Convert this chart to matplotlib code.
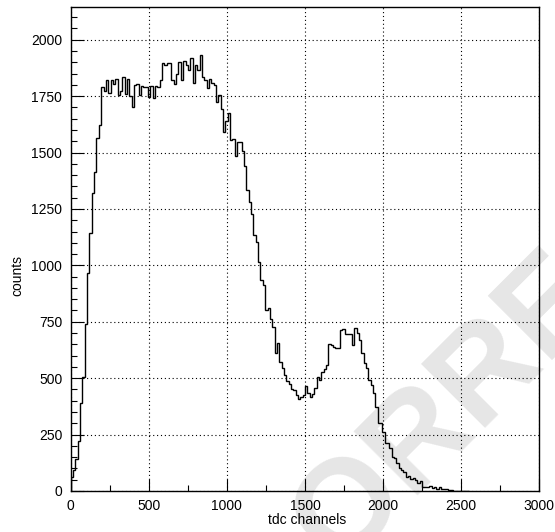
import numpy as np
import matplotlib
matplotlib.use("Agg")
import matplotlib.pyplot as plt
from matplotlib.ticker import MultipleLocator

plt.rcParams['font.family'] = ['Liberation Sans', 'DejaVu Sans']

# tdc spectrum, 15 channels per bin starting at 0
bin_width = 15
counts = [
    60, 95, 140, 220, 390, 505, 740, 965, 1145, 1320,
    1415, 1565, 1620, 1790, 1775, 1820, 1762, 1820, 1806, 1825,
    1755, 1775, 1833, 1760, 1828, 1750, 1700, 1799, 1804, 1757,
    1794, 1791, 1789, 1744, 1794, 1740, 1794, 1789, 1823, 1899,
    1887, 1899, 1897, 1821, 1806, 1848, 1902, 1821, 1906, 1887,
    1866, 1917, 1809, 1887, 1866, 1931, 1833, 1823, 1784, 1825,
    1809, 1799, 1725, 1755, 1695, 1592, 1641, 1674, 1555, 1562,
    1484, 1548, 1548, 1506, 1440, 1334, 1280, 1227, 1133, 1105,
    1015, 935, 913, 800, 809, 761, 725, 610, 654, 573,
    543, 514, 489, 474, 451, 447, 425, 406, 415, 425,
    465, 433, 418, 428, 455, 506, 492, 529, 539, 558,
    651, 645, 637, 632, 635, 713, 716, 696, 695, 696,
    647, 721, 700, 669, 610, 566, 543, 492, 470, 433,
    374, 303, 300, 263, 214, 212, 189, 152, 145, 123,
    101, 93, 86, 63, 66, 52, 57, 48, 34, 45,
    16, 19, 16, 22, 12, 19, 10, 16, 7, 9,
    7, 5, 4, 2, 2, 1, 0, 0, 0, 0,
]
edges = np.arange(len(counts) + 1) * bin_width

fig = plt.figure(figsize=(5.55, 5.32), dpi=100)
ax = fig.add_axes([0.1274, 0.0771, 0.8443, 0.9097])

ax.stairs(counts, edges, color='black', lw=1.0)

ax.set_xlim(0, 3000)
ax.set_ylim(0, 2145)
ax.xaxis.set_major_locator(MultipleLocator(500))
ax.xaxis.set_minor_locator(MultipleLocator(250))
ax.yaxis.set_major_locator(MultipleLocator(250))
ax.yaxis.set_minor_locator(MultipleLocator(50))
ax.tick_params(which='both', direction='in', top=False, right=False,
               labelsize=10, colors='black')
ax.tick_params(which='major', length=9, width=0.8, pad=6)
ax.tick_params(which='minor', length=4.5, width=0.8)
ax.grid(True, which='major', color='black', linestyle=(0, (1, 2.5)), lw=0.8)
for s in ax.spines.values():
    s.set_linewidth(1.0)

fig.text(0.553, 0.022, 'tdc channels', fontsize=10, ha='center', va='center')
fig.text(0.031, 0.482, 'counts', fontsize=10, ha='center', va='center', rotation=90)

# faint watermark, only partly on the canvas as in the original
fig.text(0.608, -0.07, 'ORRE', fontsize=95, color='black', alpha=0.1,
         rotation=45, rotation_mode='anchor', ha='left', va='baseline',
         fontweight='bold', zorder=10)

fig.savefig('out.png', dpi=100)
